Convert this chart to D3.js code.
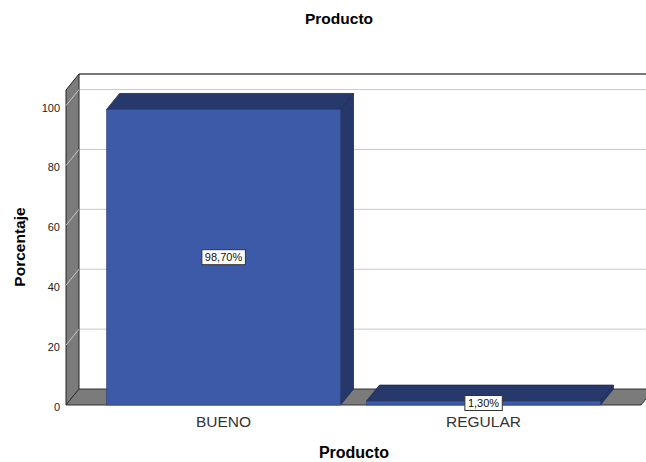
<!DOCTYPE html>
<html lang="es">
  <head>
    <meta charset="UTF-8" />
    <title>Producto</title>
    <script src="https://d3js.org/d3.v7.min.js"></script>
    <style>
      body {
        margin: 0;
        background: #fff;
      }
      svg text {
        font-family: 'Liberation Sans', Arial, sans-serif;
      }
    </style>
  </head>
  <body>
    <div id="chart"></div>
    <script>
      // chart data
      const categories = ['BUENO', 'REGULAR'];
      const percentages = [98.7, 1.3];
      const valueLabels = ['98,70%', '1,30%'];
      const yTicks = [0, 20, 40, 60, 80, 100];

      const svgWidth = 646;
      const svgHeight = 462;
      // 3d depth offset of the back plane
      const dx = 13;
      const dy = -16;

      const svg = d3
        .select('#chart')
        .append('svg')
        .attr('width', svgWidth)
        .attr('height', svgHeight);

      const x = d3
        .scaleBand()
        .domain(categories)
        .range([66, 641])
        .paddingInner(0.1)
        .paddingOuter(0.156);

      const y = d3.scaleLinear().domain([0, 105.2]).range([405, 90]);

      const x0 = x.range()[0];
      const x1 = x.range()[1];
      const yTop = y(y.domain()[1]);
      const yBase = y(0);

      const poly = (pts) => pts.map((p) => p.join(',')).join(' ');

      // back wall gridlines
      svg
        .selectAll('.grid')
        .data(yTicks.filter((d) => d > 0))
        .enter()
        .append('line')
        .attr('x1', x0 + dx)
        .attr('x2', x1 + dx)
        .attr('y1', (d) => y(d) + dy)
        .attr('y2', (d) => y(d) + dy)
        .attr('stroke', '#c8c8c8')
        .attr('stroke-width', 1);

      // top border of back wall
      svg
        .append('line')
        .attr('x1', x0 + dx)
        .attr('x2', x1 + dx)
        .attr('y1', yTop + dy)
        .attr('y2', yTop + dy)
        .attr('stroke', '#777')
        .attr('stroke-width', 2);

      // left wall
      svg
        .append('polygon')
        .attr(
          'points',
          poly([
            [x0, yTop],
            [x0 + dx, yTop + dy],
            [x0 + dx, yBase + dy],
            [x0, yBase],
          ]),
        )
        .attr('fill', '#7b7b7b')
        .attr('stroke', '#222')
        .attr('stroke-width', 1);

      // floor
      svg
        .append('polygon')
        .attr(
          'points',
          poly([
            [x0, yBase],
            [x0 + dx, yBase + dy],
            [x1 + dx, yBase + dy],
            [x1, yBase],
          ]),
        )
        .attr('fill', '#7b7b7b')
        .attr('stroke', '#333')
        .attr('stroke-width', 1);

      // gridline diagonals on the left wall
      svg
        .selectAll('.diag')
        .data(yTicks.filter((d) => d > 0))
        .enter()
        .append('line')
        .attr('x1', x0)
        .attr('x2', x0 + dx)
        .attr('y1', (d) => y(d))
        .attr('y2', (d) => y(d) + dy)
        .attr('stroke', '#c8c8c8')
        .attr('stroke-width', 1);

      // y axis labels
      const yAxis = svg
        .append('g')
        .attr('transform', `translate(${x0},2)`)
        .call(d3.axisLeft(y).tickValues(yTicks).tickSize(0).tickPadding(6));
      yAxis.select('.domain').remove();
      yAxis
        .selectAll('text')
        .style('font-size', '11px')
        .attr('fill', '#222');

      // bars
      const bars = svg
        .selectAll('.bar')
        .data(categories)
        .enter()
        .append('g')
        .attr('class', 'bar');

      bars
        .append('polygon')
        .attr('points', (d, i) => {
          const bx = x(d);
          const bw = x.bandwidth();
          const by = y(percentages[i]);
          return poly([
            [bx, by],
            [bx + dx, by + dy],
            [bx + bw + dx, by + dy],
            [bx + bw, by],
          ]);
        })
        .attr('fill', '#27386a')
        .attr('stroke', '#1d2a52')
        .attr('stroke-width', 0.8);

      bars
        .append('polygon')
        .attr('points', (d, i) => {
          const bx = x(d) + x.bandwidth();
          const by = y(percentages[i]);
          return poly([
            [bx, by],
            [bx + dx, by + dy],
            [bx + dx, yBase + dy],
            [bx, yBase],
          ]);
        })
        .attr('fill', '#26376a')
        .attr('stroke', '#1d2a52')
        .attr('stroke-width', 0.8);

      bars
        .append('rect')
        .attr('x', (d) => x(d))
        .attr('y', (d, i) => y(percentages[i]))
        .attr('width', x.bandwidth())
        .attr('height', (d, i) => yBase - y(percentages[i]))
        .attr('fill', '#3d5aa8')
        .attr('stroke', '#2c3f7a')
        .attr('stroke-width', 0.6);

      // value labels
      const labels = svg
        .selectAll('.vlabel')
        .data(categories)
        .enter()
        .append('g')
        .attr('class', 'vlabel')
        .attr('transform', (d, i) => {
          const cx = x(d) + x.bandwidth() / 2;
          const cy = (y(percentages[i]) + yBase) / 2;
          return `translate(${cx},${cy})`;
        });

      labels
        .append('text')
        .attr('text-anchor', 'middle')
        .attr('dy', '0.36em')
        .style('font-size', '11px')
        .attr('fill', '#111')
        .text((d, i) => valueLabels[i]);

      labels.each(function () {
        const g = d3.select(this);
        const bb = g.select('text').node().getBBox();
        g.insert('rect', 'text')
          .attr('x', bb.x - 3)
          .attr('y', bb.y - 1.5)
          .attr('width', bb.width + 6)
          .attr('height', bb.height + 3)
          .attr('fill', '#fff')
          .attr('stroke', '#333')
          .attr('stroke-width', 1);
      });

      // category labels
      svg
        .selectAll('.cat')
        .data(categories)
        .enter()
        .append('text')
        .attr('x', (d) => x(d) + x.bandwidth() / 2)
        .attr('y', 427)
        .attr('text-anchor', 'middle')
        .style('font-size', '15.5px')
        .attr('fill', '#333')
        .text((d) => d);

      // titles
      svg
        .append('text')
        .attr('x', 339)
        .attr('y', 23.5)
        .attr('text-anchor', 'middle')
        .style('font-size', '15.5px')
        .style('font-weight', 'bold')
        .text('Producto');

      svg
        .append('text')
        .attr('x', 354)
        .attr('y', 458)
        .attr('text-anchor', 'middle')
        .style('font-size', '16px')
        .style('font-weight', 'bold')
        .text('Producto');

      svg
        .append('text')
        .attr('transform', 'translate(25,247) rotate(-90)')
        .attr('text-anchor', 'middle')
        .style('font-size', '15.5px')
        .style('font-weight', 'bold')
        .text('Porcentaje');
    </script>
  </body>
</html>
